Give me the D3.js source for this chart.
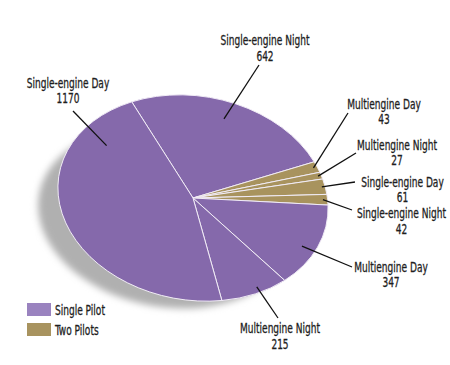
<!DOCTYPE html>
<html><head><meta charset="utf-8">
<script src="https://cdn.jsdelivr.net/npm/d3@7/dist/d3.min.js"></script>
<style>
body{margin:0;background:#fff}
svg{display:block}
text{font-family:"DejaVu Sans Condensed","Liberation Sans Narrow",sans-serif;font-size:14px;fill:#1e1e1e;stroke:#1e1e1e;stroke-width:0.3px}
</style>
</head><body>
<svg id="c" width="450" height="365"></svg>
<script>
// ---- data ----
const categories = ["Single-engine Night","Multiengine Day","Multiengine Night","Single-engine Day","Single-engine Night","Multiengine Day","Multiengine Night","Single-engine Day"];
const groups = ["Single Pilot","Two Pilots","Two Pilots","Two Pilots","Two Pilots","Single Pilot","Single Pilot","Single Pilot"];
const values = [642,43,27,61,42,347,215,1170];
const legendLabels = ["Single Pilot","Two Pilots"];

// ---- layout (positions only) ----
const labelPos = [[265,45],[384,108.5],[397,149.5],[402.5,186.5],[401.5,218],[391,271.5],[280,333],[68,87.5]];
const leaderOuter = [[259,65],[348,113],[356,153],[355,182],[352,210],[352,267],[278,318],[73,111]];
const leaderInner = [[0.475,0.825],[0.5,0.97],[0.5,0.975],[0.5,0.975],[0.5,0.965],[0.56,0.895],[0.42,0.945],[0.83,0.78]];
const refWidth = 89; // target drawn width of "Single-engine Night"

const cx = 193, cy = 198, R = 136, squash = 0.75, tilt = 10;
const startDeg = -34.5;
const sliceColor = d3.scaleOrdinal().domain(legendLabels).range(["#8569ab","#a8935e"]);
const legendColor = d3.scaleOrdinal().domain(legendLabels).range(["#9a83bf","#a8935f"]);

const svg = d3.select("#c");
const defs = svg.append("defs");
defs.append("filter").attr("id","blur").attr("x","-20%").attr("y","-20%").attr("width","140%").attr("height","140%")
  .append("feGaussianBlur").attr("stdDeviation",3.5);

// shadow
svg.append("ellipse")
  .attr("cx",0).attr("cy",0).attr("rx",130).attr("ry",90)
  .attr("transform",`translate(167,217) rotate(${tilt})`)
  .attr("fill","#b0b0b0").attr("filter","url(#blur)");

const pie = d3.pie().sort(null).value(d=>d)
  .startAngle(startDeg*Math.PI/180).endAngle((startDeg+360)*Math.PI/180);
const arcs = pie(values);
const arc = d3.arc().innerRadius(0).outerRadius(R);

const g = svg.append("g").attr("transform",`translate(${cx},${cy}) rotate(${tilt}) scale(1,${squash})`);
g.selectAll("path").data(arcs).join("path")
  .attr("d",arc)
  .attr("fill",(d,i)=>sliceColor(groups[i]))
  .attr("stroke","#f1ecf6").attr("stroke-width",1)
  .attr("vector-effect","non-scaling-stroke");

const tr = tilt*Math.PI/180;
function toScreen(ang, rad){
  const x = rad*Math.sin(ang), y = -rad*Math.cos(ang)*squash;
  return [cx + x*Math.cos(tr) - y*Math.sin(tr), cy + x*Math.sin(tr) + y*Math.cos(tr)];
}

// leaders
arcs.forEach((a,i)=>{
  const [t,r] = leaderInner[i];
  const ang = a.startAngle + t*(a.endAngle-a.startAngle);
  const p = toScreen(ang, r*R);
  svg.append("line")
    .attr("x1",leaderOuter[i][0]).attr("y1",leaderOuter[i][1])
    .attr("x2",p[0]).attr("y2",p[1])
    .attr("stroke","#111").attr("stroke-width",1.3);
});

// measure font compression
const probe = svg.append("text").text("Single-engine Night");
const fx = refWidth / probe.node().getComputedTextLength();
probe.remove();

// labels
arcs.forEach((a,i)=>{
  const lg = svg.append("g").attr("transform",`translate(${labelPos[i][0]},${labelPos[i][1]}) scale(${fx},1)`);
  const t = lg.append("text").attr("text-anchor","middle");
  t.append("tspan").attr("x",0).attr("y",0).text(categories[i]);
  t.append("tspan").attr("x",0).attr("dy",16).text(values[i]);
});

// legend
legendLabels.forEach((l,i)=>{
  svg.append("rect").attr("x",27).attr("y",303+i*20).attr("width",24).attr("height",13).attr("fill",legendColor(l));
  svg.append("g").attr("transform",`translate(55,${315+i*20}) scale(${fx},1)`)
    .append("text").attr("x",0).attr("y",0).text(l);
});
</script>
</body></html>
